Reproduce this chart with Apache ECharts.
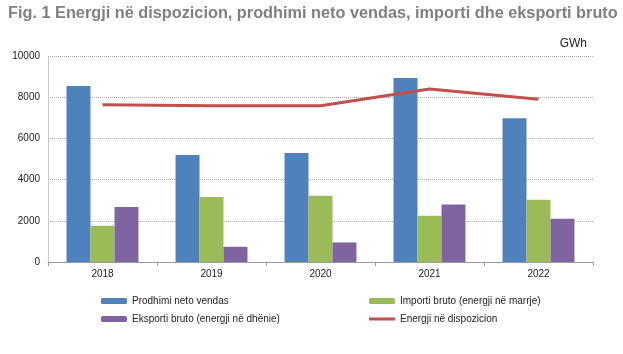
<!doctype html>
<html>
<head>
<meta charset="utf-8">
<script src="https://cdn.jsdelivr.net/npm/echarts@6/dist/echarts.min.js"></script>
<style>
    html, body { margin: 0; padding: 0; background: #fff; }
    #chart { width: 623px; height: 354px; }
</style>
</head>
<body>
<div id="chart"></div>
<script>
    let years = ['2018', '2019', '2020', '2021', '2022'];
    let prodhimi = [8540, 5190, 5290, 8930, 6980];
    let importi = [1760, 3150, 3210, 2240, 3020];
    let eksporti = [2670, 740, 950, 2790, 2100];
    let energji = [7630, 7590, 7580, 8400, 7900];
    let yTicks = [0, 2000, 4000, 6000, 8000, 10000];

    let font = 'Liberation Sans';
    let lineIcon = 'path://M0,0 L26,0 L26,3 L0,3 Z';
    let chart = echarts.init(document.getElementById('chart'));
    chart.setOption({
        animation: false,
        textStyle: {fontFamily: font},
        title: [{
            text: 'Fig. 1 Energji në dispozicion, prodhimi neto vendas, importi dhe eksporti bruto',
            left: 3, top: 1,
            textStyle: {fontSize: 16.3, fontWeight: 'bold', color: '#7f7f7f', fontFamily: font}
        }, {
            text: 'GWh',
            right: 31, top: 33,
            textStyle: {fontSize: 12, fontWeight: 'normal', color: '#222', fontFamily: font}
        }],
        legend: [{
            data: ['Prodhimi neto vendas', 'Eksporti bruto (energji në dhënie)'],
            orient: 'vertical', left: 96, top: 291,
            itemWidth: 26, itemHeight: 6, itemGap: 8,
            textStyle: {fontSize: 10, color: '#222'}
        }, {
            data: ['Importi bruto (energji në marrje)', {name: 'Energji në dispozicion', icon: lineIcon}],
            orient: 'vertical', left: 364, top: 291,
            itemWidth: 26, itemHeight: 6, itemGap: 8,
            textStyle: {fontSize: 10, color: '#222'}
        }],
        grid: {left: 48, right: 30, top: 56, bottom: 92},
        xAxis: {
            type: 'category',
            data: years,
            axisLine: {lineStyle: {color: '#999'}},
            axisTick: {show: true, length: 4, lineStyle: {color: '#999'}},
            axisLabel: {fontSize: 10, color: '#222', margin: 7}
        },
        yAxis: {
            type: 'value',
            min: 0, max: 10000, interval: 2000,
            axisLine: {show: true, lineStyle: {color: '#bbb', type: 'dotted'}},
            axisTick: {show: false},
            axisLabel: {fontSize: 10, color: '#222', margin: 8,
                formatter: function (v) { return yTicks.indexOf(v) >= 0 ? String(v) : ''; }},
            splitLine: {lineStyle: {color: '#aaa', type: 'dotted'}}
        },
        series: [{
            name: 'Prodhimi neto vendas', type: 'bar', data: prodhimi,
            barGap: '0%', barCategoryGap: '34%',
            itemStyle: {color: '#4F81BD'}
        }, {
            name: 'Importi bruto (energji në marrje)', type: 'bar', data: importi,
            itemStyle: {color: '#9BBB59'}
        }, {
            name: 'Eksporti bruto (energji në dhënie)', type: 'bar', data: eksporti,
            itemStyle: {color: '#8064A2'}
        }, {
            name: 'Energji në dispozicion', type: 'line', data: energji,
            symbol: 'none',
            lineStyle: {color: '#C0504D', width: 3},
            itemStyle: {color: '#C0504D'}
        }]
    });
</script>
</body>
</html>
